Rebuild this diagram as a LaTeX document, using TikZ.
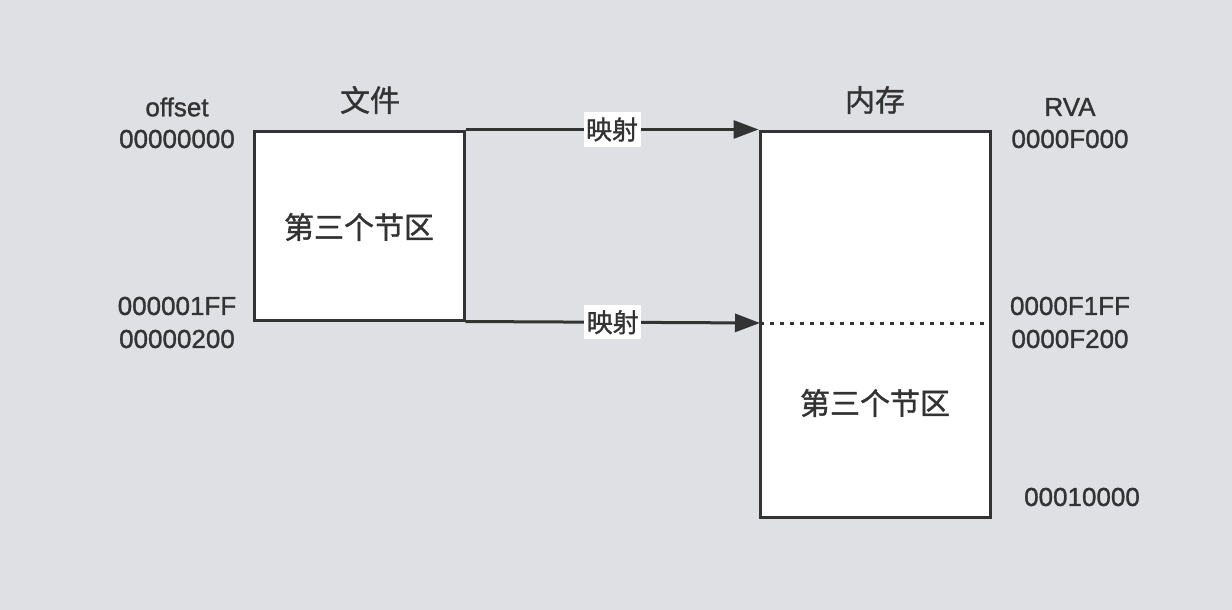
\documentclass[tikz,border=0pt]{standalone}
\usepackage{fontspec}
\setmainfont[FakeBold=1.2]{Liberation Sans}
\newfontfamily\cjk[FakeBold=1.2]{Noto Sans CJK SC}
\usetikzlibrary{arrows.meta, positioning}

\definecolor{bggray}{RGB}{223,224,228}
\definecolor{ink}{RGB}{51,51,51}

\begin{document}
\begin{tikzpicture}[x=1pt, y=-1pt, >={Triangle[length=25pt,width=18pt]},
    box/.style={draw=ink, line width=3pt, fill=white, inner sep=0pt},
    addr/.style={text=ink, font=\fontsize{26}{28}\selectfont},
    title/.style={text=ink, font=\cjk\fontsize{30}{32}\selectfont},
    maplabel/.style={fill=white, text=ink, inner xsep=2.5pt, inner ysep=5pt,
        font=\cjk\fontsize{26}{28}\selectfont}]

    % background
    \fill[bggray] (0,0) rectangle (1232,610);
    \useasboundingbox (0,0) rectangle (1232,610);

    % Boxes
    \node[box, minimum width=210pt, minimum height=189pt] (file) at (359,225.5) {};
    \node[box, minimum width=230pt, minimum height=386pt] (mem) at (875,324) {};
    \node[title] (filesec) at (359,227) {第三个节区};
    \node[title] (memsec) at (875,403) {第三个节区};
    \coordinate (msplit) at (760,323);
    \coordinate (msplitend) at (990,323);

    % Titles
    \node[title] (filetitle) at (370,100) {文件};
    \node[title] (memtitle) at (875,100) {内存};

    % Offsets (file)
    \node[addr] (offset) at (177,107) {offset};
    \node[addr] (off0) at (177,139) {00000000};
    \node[addr] (off1) at (177,306) {000001FF};
    \node[addr] (off2) at (177,339) {00000200};

    % RVAs (memory)
    \node[addr] (rva) at (1070,107) {RVA};
    \node[addr] (rva0) at (1070,139) {0000F000};
    \node[addr] (rva1) at (1070,306) {0000F1FF};
    \node[addr] (rva2) at (1070,339) {0000F200};
    \node[addr] (rva3) at (1082,497) {00010000};

    % Split line and mappings
    \draw[ink, line width=3pt, dash pattern=on 4pt off 6pt] (msplit) -- (msplitend);
    \draw[->, ink, line width=3pt] (file.north east) -- (mem.north west)
        node[midway, maplabel] {映射};
    \draw[->, ink, line width=3pt] (file.south east) -- (msplit)
        node[midway, maplabel] {映射};

\end{tikzpicture}
\end{document}
